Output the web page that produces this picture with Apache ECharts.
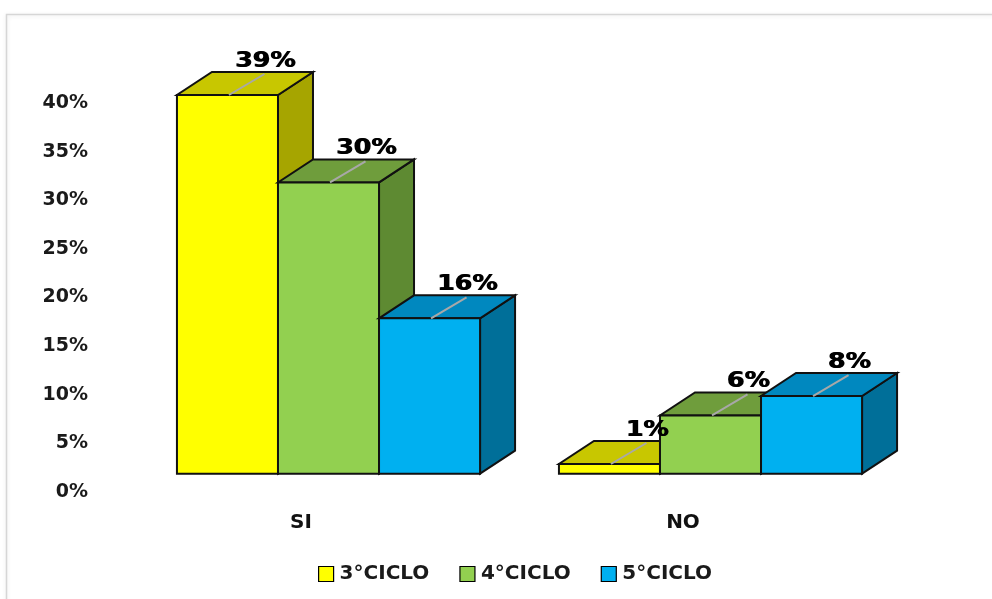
<!DOCTYPE html>
<html>
<head>
<meta charset="utf-8">
<style>
  html, body { margin: 0; padding: 0; background: #fff; }
  #chart { width: 992px; height: 599px; }
</style>
<script src="https://cdn.jsdelivr.net/npm/echarts@6/dist/echarts.min.js"></script>
</head>
<body>
<div id="chart"></div>
<script>
// Categories and percentages per cycle
const categories = ['SI', 'NO'];
const seriesNames = ['3°CICLO', '4°CICLO', '5°CICLO'];
const ciclo3 = [39, 1];
const ciclo4 = [30, 6];
const ciclo5 = [16, 8];
const yMin = 0, yMax = 40, yStep = 5;

// face colours: front, top, side
const palettes = [
  { front: '#ffff00', top: '#c8c700', side: '#a6a500' },
  { front: '#92d050', top: '#6f9d3c', side: '#5e8a32' },
  { front: '#00b0f0', top: '#0088bf', side: '#006f99' }
];

const FONT = '"DejaVu Sans", Verdana, sans-serif';
const EDGE = '#111111';

// heavy value label: the same bold text painted twice, a hair apart
function valueLabel(text, x, y, shift) {
  return {
    type: 'text', z2: 60,
    x: x + shift, y: y,
    scaleX: 1.15,
    style: {
      x: 0, y: 0,
      text: text,
      fill: '#000',
      fontFamily: FONT,
      fontWeight: 'bold',
      fontSize: 22,
      align: 'center',
      verticalAlign: 'middle'
    }
  };
}

function boxRenderer(slot, pal) {
  return function (params, api) {
    const ci = api.value(0);
    const v = api.value(1);
    const base = api.coord([ci, 0]);
    const topPt = api.coord([ci, v]);
    const band = api.size([1, 0])[0];
    const bw = band * 0.2645;
    const lift = 18;           // floor raised above the axis baseline
    const dx = 35, dy = -23;   // depth projection
    const x0 = base[0] + band * 0.072 - 1.5 * bw + slot * bw;
    const x1 = x0 + bw;
    const yb = base[1] - lift;
    const yt = topPt[1] - lift;
    const stroke = { stroke: EDGE, lineWidth: 2, lineJoin: 'miter' };
    const zb = slot * 3;
    const cx = (x0 + x1) / 2;
    return {
      type: 'group',
      children: [
        {
          type: 'polygon', z2: zb,
          shape: { points: [[x1, yb], [x1 + dx, yb + dy], [x1 + dx, yt + dy], [x1, yt]] },
          style: Object.assign({ fill: pal.side }, stroke)
        },
        {
          type: 'polygon', z2: zb + 1,
          shape: { points: [[x0, yt], [x1, yt], [x1 + dx, yt + dy], [x0 + dx, yt + dy]] },
          style: Object.assign({ fill: pal.top }, stroke)
        },
        {
          type: 'rect', z2: zb + 2,
          shape: { x: x0, y: yt, width: bw, height: yb - yt },
          style: Object.assign({ fill: pal.front }, stroke)
        },
        {
          type: 'line', z2: 50,
          shape: { x1: cx + 1.5, y1: yt, x2: cx + 37, y2: yt - 21 },
          style: { stroke: '#a8a8a8', lineWidth: 2 }
        },
        valueLabel(v + '%', cx + 38, yt - 34, -0.5),
        valueLabel(v + '%', cx + 38, yt - 34, 0.5)
      ]
    };
  };
}

const seriesValues = [ciclo3, ciclo4, ciclo5];

const chart = echarts.init(document.getElementById('chart'), null, { renderer: 'canvas' });

chart.setOption({
  backgroundColor: '#ffffff',
  animation: false,
  graphic: [
    {
      type: 'rect',
      left: 4, top: 12,
      shape: { width: 1100, height: 700 },
      style: {
        fill: 'none',
        stroke: '#d6d6d6',
        lineWidth: 1.5,
        shadowColor: 'rgba(0,0,0,0.10)',
        shadowBlur: 4,
        shadowOffsetY: 1
      },
      silent: true
    }
  ],
  grid: { left: 110, top: 103.3, width: 764, height: 388.4, containLabel: false },
  legend: {
    data: seriesNames,
    left: 313,
    top: 559,
    icon: 'rect',
    itemWidth: 15,
    itemHeight: 15,
    itemGap: 30,
    itemStyle: { borderColor: '#000', borderWidth: 1.2 },
    textStyle: { fontFamily: FONT, fontWeight: 'bold', fontSize: 20, color: '#1a1a1a', padding: [0, 0, 0, 1] }
  },
  xAxis: {
    type: 'category',
    data: categories,
    axisLine: { show: false },
    axisTick: { show: false },
    splitLine: { show: false },
    axisLabel: { fontFamily: FONT, fontWeight: 'bold', fontSize: 20, color: '#111', margin: 21 }
  },
  yAxis: {
    type: 'value',
    min: yMin, max: yMax, interval: yStep,
    axisLine: { show: false },
    axisTick: { show: false },
    splitLine: { show: false },
    axisLabel: {
      formatter: '{value}%',
      fontFamily: FONT, fontWeight: 'bold', fontSize: 19, color: '#1a1a1a', margin: 22
    }
  },
  series: seriesNames.map(function (name, i) {
    return {
      name: name,
      type: 'custom',
      itemStyle: { color: palettes[i].front, borderColor: '#000', borderWidth: 1 },
      renderItem: boxRenderer(i, palettes[i]),
      encode: { x: 0, y: 1 },
      data: seriesValues[i].map(function (v, ci) { return [ci, v]; })
    };
  })
});
</script>
</body>
</html>
